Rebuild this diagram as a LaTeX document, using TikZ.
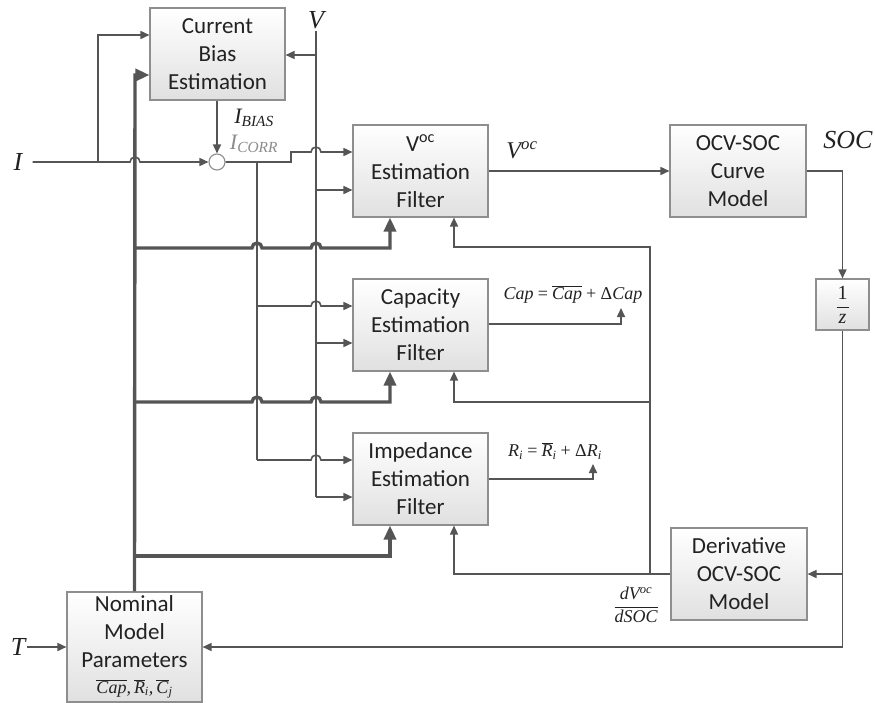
\documentclass[tikz,border=0pt]{standalone}
\usepackage{fontspec}
\setmainfont{Carlito}
\newfontfamily\tms{Liberation Serif}
\usetikzlibrary{arrows.meta}
\definecolor{lncol}{HTML}{555555}
\definecolor{bxcol}{HTML}{8E8E8E}
\definecolor{txcol}{HTML}{222222}
\newcommand{\mi}[1]{{\tms\itshape #1}}
\begin{document}
\begin{tikzpicture}[x=1pt,y=-1pt,
  blk/.style={draw=bxcol, line width=1.1pt, top color=white, bottom color=black!12,
    text=txcol, font=\fontsize{23}{28}\selectfont, align=center, inner sep=0pt,
    minimum width=135pt, minimum height=92pt},
  wire/.style={draw=lncol, line width=1.6pt},
  arr/.style={wire, -{Triangle[length=9pt,width=8pt]}},
  thk/.style={draw=lncol, line width=3.4pt},
  thkarr/.style={thk, -{Triangle[length=14pt,width=12pt]}},
  hop/.style={insert path={arc[start angle=180,end angle=360,radius=5]}},
  lbl/.style={font=\fontsize{26}{30}\selectfont, text=txcol, inner sep=2pt},
  eq/.style={font=\fontsize{18}{22}\selectfont, text=txcol, inner sep=0pt}]
\useasboundingbox (0,0) rectangle (875,702);
\clip (0,0) rectangle (875,702);

% blocks
\node[blk] (cbe) at (217.5,54) {Current\\Bias\\Estimation};
\node[blk] (voc) at (420.5,171) {V\textsuperscript{oc}\\Estimation\\Filter};
\node[blk] (cap) at (420.5,325) {Capacity\\Estimation\\Filter};
\node[blk] (imp) at (420.5,479) {Impedance\\Estimation\\Filter};
\node[blk, minimum width=136pt] (ocv) at (738,171) {OCV-SOC\\Curve\\Model};
\node[blk, minimum width=136pt] (der) at (739,574) {Derivative\\OCV-SOC\\Model};
\node[blk, minimum width=53pt, minimum height=51pt, font=\fontsize{20}{12}\selectfont] (zbox) at (842.5,304.5)
  {{\tms 1}\\\raisebox{3pt}{\color{txcol}\rule{12pt}{0.9pt}}\\\mi{z}};
\node[blk, minimum height=110pt] (nom) at (134.5,647)
  {Nominal\\Model\\Parameters\\[-2pt]{\fontsize{18}{20}\selectfont$\overline{\hbox{\mi{Cap}}}$\mi{,}\,$\overline{\hbox{\mi{R}}}$\textsubscript{\mi{i}}\mi{,}\,$\overline{\hbox{\mi{C}}}$\textsubscript{\mi{j}}}};
\node[circle, draw=bxcol, line width=1.1pt, fill=white, minimum size=16pt, inner sep=0pt] (sum) at (217,162) {};

% labels
\node[lbl] (Ilab) at (18,162) {\mi{I}};
\node[lbl] (Vlab) at (316,20) {\mi{V}};
\node[lbl] (Tlab) at (18,647) {\mi{T}};
\node[lbl] (SOClab) at (848,140) {\mi{SOC}};
\node[lbl, font=\fontsize{24}{28}\selectfont] (Voclab) at (522,150) {\mi{V}\textsuperscript{\mi{oc}}};
\node[lbl, font=\fontsize{22}{26}\selectfont] (Ibias) at (254,118) {\mi{I}\textsubscript{\mi{BIAS}}};
\node[lbl, font=\fontsize{22}{26}\selectfont, text=black!45] (Icorr) at (254,144) {\mi{I}\textsubscript{\mi{CORR}}};
\node[eq] (capeq) at (573,294) {\mi{Cap} {\tms =} $\overline{\hbox{\mi{Cap}}}$ {\tms + Δ}\mi{Cap}};
\node[eq] (reqn) at (555,451) {\mi{R}\textsubscript{\mi{i}} {\tms =} $\overline{\hbox{\mi{R}}}$\textsubscript{\mi{i}} {\tms + Δ}\mi{R}\textsubscript{\mi{i}}};
\node[eq] (dlab) at (636,605) {$\displaystyle\frac{\hbox{\mi{dV}\textsuperscript{\mi{oc}}}}{\hbox{\mi{dSOC}}}$};

% coordinates
\coordinate (iB) at (98,162);
\coordinate (vEnd) at (316,497);
\coordinate (cB) at (257,162);
\coordinate (capOut) at (621,308);
\coordinate (impOut) at (593,464);

% current input
\draw[arr] (Ilab.east) ++(8,0) -- (130,162) [hop] -- (sum.west);
\draw[arr] (iB) |- (cbe.west |- 0,35);
\draw[arr] (cbe.south -| sum) -- (sum.north);
% corrected current
\draw[arr] (sum.east) -- (291,162) -- (291,152) -- (311,152) [hop] -- (voc.west |- 0,152);
\draw[wire] (cB) -- (257,460);
\draw[arr] (257,306) -- (311,306) [hop] -- (cap.west |- 0,306);
\draw[arr] (257,460) -- (311,460) [hop] -- (imp.west |- 0,460);
% voltage
\draw[wire] (Vlab.south) -- (vEnd);
\draw[arr] (316,55) -- (cbe.east |- 0,55);
\draw[arr] (316,190) -- (voc.west |- 0,190);
\draw[arr] (316,343) -- (cap.west |- 0,343);
\draw[arr] (vEnd) -- (imp.west |- vEnd);
% nominal parameters (thick)
\draw[thkarr] (nom.north) -- (135,75) -- (cbe.west |- 0,75);
\draw[thkarr] (135,248) -- (252,248) [hop] -- (311,248) [hop] -- (390,248) -- (voc.south -| 390,0);
\draw[thkarr] (135,402) -- (252,402) [hop] -- (311,402) [hop] -- (390,402) -- (cap.south -| 390,0);
\draw[thkarr] (135,556) -- (390,556) -- (imp.south -| 390,0);
% Voc path
\draw[arr] (voc.east) -- (ocv.west);
\draw[arr] (ocv.east) -| (zbox.north);
\draw[arr] (zbox.south) |- (nom.east);
\draw[arr] (843,574) -- (der.east);
\draw[arr] (der.west) -- (454,574) -- (imp.south -| 454,0);
\draw[arr] (650,574) -- (650,247) -- (454,247) -- (voc.south -| 454,0);
\draw[arr] (650,402) -- (454,402) -- (cap.south -| 454,0);
% outputs
\draw[arr] (cap.east |- 0,324) -| (capOut);
\draw[arr] (imp.east |- 0,479) -| (impOut);
% temperature
\draw[arr] (Tlab.east) -- (nom.west);
\end{tikzpicture}
\end{document}
